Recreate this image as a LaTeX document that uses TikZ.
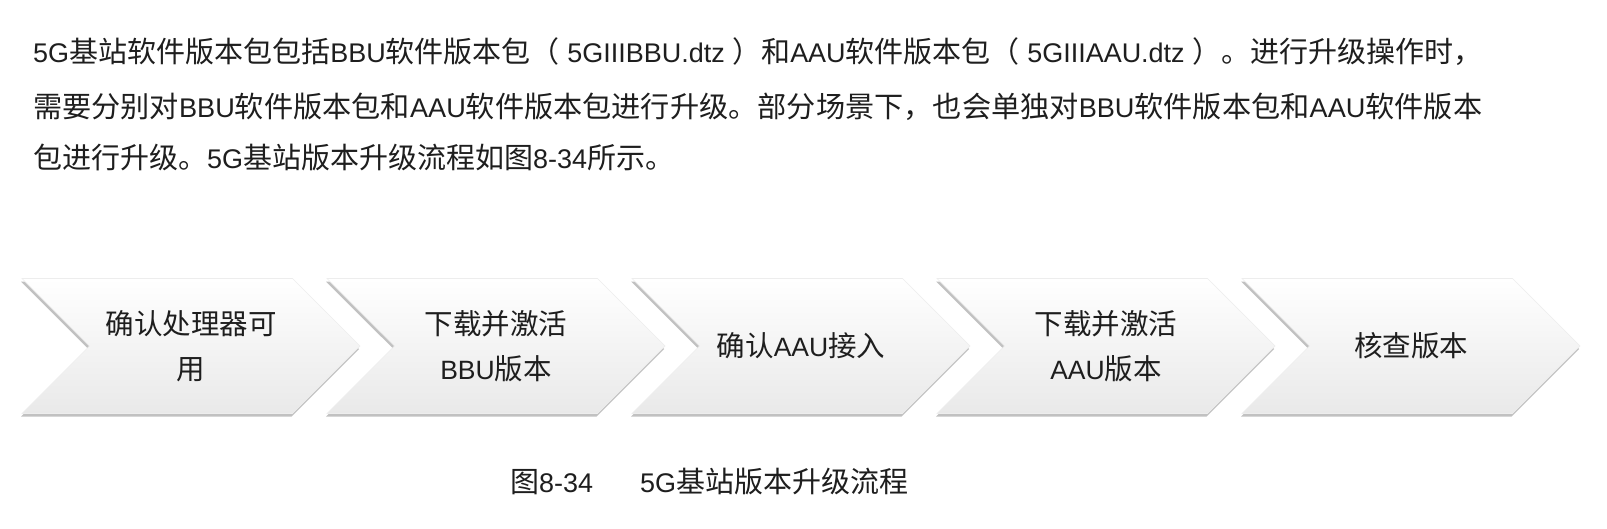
\documentclass[tikz,border=0pt]{standalone}
\usepackage{graphicx}
\usepackage{fontspec}
\setmainfont{Noto Sans CJK SC}
\newfontfamily\latfont{Liberation Sans}[Scale=0.93]
\newcommand\lat[1]{{\latfont #1}}
% a justified line of the paragraph
\newcommand\fullline[1]{\resizebox{1449pt}{\height}{#1}}
\usetikzlibrary{shapes.symbols,shadows}

\definecolor{inktext}{HTML}{1E1E1E}
\definecolor{chevbot}{HTML}{E9E9E9}

\tikzset{
  chevron/.style={signal, signal from=west, signal to=east, signal pointer angle=90,
    minimum width=338pt, minimum height=135pt, inner sep=0pt, align=center,
    text=inktext, font=\fontsize{28.5}{45}\selectfont, draw=black!7, line width=0.6pt,
    top color=white, middle color=white, bottom color=chevbot,
    drop shadow={shadow xshift=-1pt, shadow yshift=-3pt, opacity=0.4, fill=black!60}},
  bodytext/.style={anchor=west, text=inktext, font=\fontsize{29}{30}\selectfont, inner sep=0pt},
  captext/.style={anchor=west, text=inktext, font=\fontsize{29}{30}\selectfont, inner sep=0pt}
}

\begin{document}
\begin{tikzpicture}[x=1pt,y=-1pt]

\fill[white] (0,0) rectangle (1607,528);
\useasboundingbox (0,0) rectangle (1607,528);

% paragraph above the chart
        \node (line1) [bodytext] at (33,52) {\fullline{\lat{5G}基站软件版本包包括\lat{BBU}软件版本包（\lat{ 5GIIIBBU.dtz }）和\lat{AAU}软件版本包（\lat{ 5GIIIAAU.dtz }）。进行升级操作时，}};
        \node (line2) [bodytext] at (33,107) {\fullline{需要分别对\lat{BBU}软件版本包和\lat{AAU}软件版本包进行升级。部分场景下，也会单独对\lat{BBU}软件版本包和\lat{AAU}软件版本}};
        \node (line3) [bodytext] at (33,157) {包进行升级。\lat{5G}基站版本升级流程如图\lat{8-34}所示。};

% process chevrons
        \foreach \txt [count=\i] in {{确认处理器可\\用},{下载并激活\\\lat{BBU}版本},{确认\lat{AAU}接入},{下载并激活\\\lat{AAU}版本},{核查版本}}
            \node (s\i) [chevron] at (191+305*\i-305,346) {\txt};

% caption
        \node (fignum) [captext] at (510,482) {图\lat{8-34}};
        \node (figtitle) [captext] at (640,482) {\lat{5G}基站版本升级流程};

\end{tikzpicture}
\end{document}
